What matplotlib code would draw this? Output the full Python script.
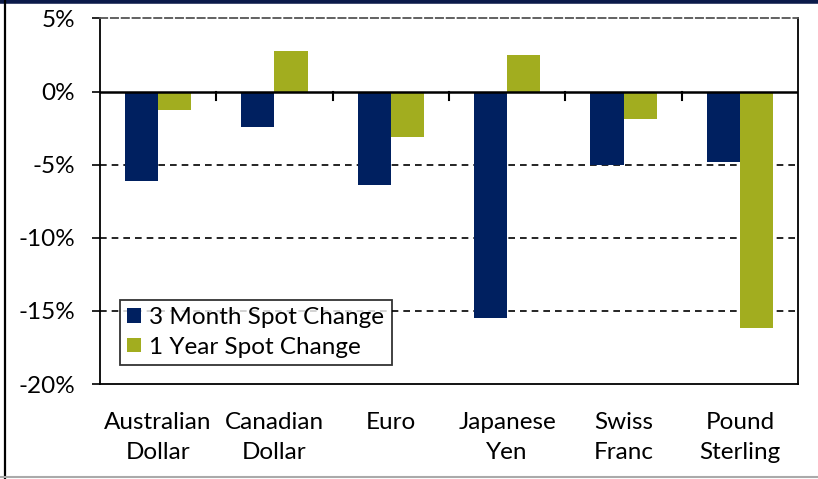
import matplotlib
matplotlib.use("Agg")
import matplotlib.pyplot as plt
import numpy as np
from matplotlib.lines import Line2D

currencies = ["Australian\nDollar", "Canadian\nDollar", "Euro", "Japanese\nYen", "Swiss\nFranc", "Pound\nSterling"]
three_month = [-6.1, -2.4, -6.4, -15.5, -5.0, -4.8]
one_year = [-1.25, 2.75, -3.1, 2.5, -1.85, -16.2]
yticks = [5, 0, -5, -10, -15, -20]

navy = "#002060"
olive = "#A2AD1F"

plt.rcParams["font.family"] = ["Lato", "DejaVu Sans"]

fig = plt.figure(figsize=(8.18, 4.79), dpi=100)
ax = fig.add_axes([0.1222, 0.1983, 0.8534, 0.7631])

x = np.arange(len(currencies))
w = 0.285
ax.bar(x - w / 2, three_month, w, color=navy, label="3 Month Spot Change", zorder=3)
ax.bar(x + w / 2, one_year, w, color=olive, label="1 Year Spot Change", zorder=3)

ax.set_xlim(-0.5, len(currencies) - 0.5)
ax.set_ylim(-20, 5)
ax.set_yticks(yticks)
ax.set_yticklabels([f"{v}%" for v in yticks], fontsize=17.5)
ax.tick_params(axis="y", length=6, width=1.2, direction="out", pad=12)

# category labels without ticks at the bottom
ax.set_xticks(x)
ax.set_xticklabels(currencies, fontsize=17.5, linespacing=1.55)
ax.tick_params(axis="x", length=0, pad=20)

# boundary ticks hanging off the zero line
for b in np.arange(0.5, len(currencies) - 0.5, 1.0):
    ax.plot([b, b], [0, -0.55], color="black", lw=1.5, zorder=4)

for v in [-5, -10, -15]:
    ax.axhline(v, color="black", lw=1.2, ls=(0, (4, 3)), zorder=2)
ax.axhline(0, color="black", lw=1.8, zorder=4)

for s in ax.spines.values():
    s.set_color("black")
    s.set_linewidth(1.3)
ax.spines["top"].set_linestyle((0, (4, 2)))
ax.spines["top"].set_color("#555555")

leg = ax.legend(loc="lower left", bbox_to_anchor=(0.029, 0.052), fontsize=17.5,
                frameon=True, fancybox=False, edgecolor="black",
                handlelength=0.55, handleheight=0.55, handletextpad=0.35,
                borderpad=0.3, labelspacing=0.35, borderaxespad=0)
leg.get_frame().set_linewidth(1.3)

# outer border of the picture
fig.add_artist(Line2D([0, 1], [0.997, 0.997], transform=fig.transFigure, color="#0B1A4A", lw=4))
fig.add_artist(Line2D([0.0065, 0.0065], [0, 1], transform=fig.transFigure, color="black", lw=1.6))
fig.add_artist(Line2D([0, 1], [0.004, 0.004], transform=fig.transFigure, color="#AAAAAA", lw=1.5))

fig.savefig("out.png", dpi=100, facecolor="white")
plt.close(fig)
